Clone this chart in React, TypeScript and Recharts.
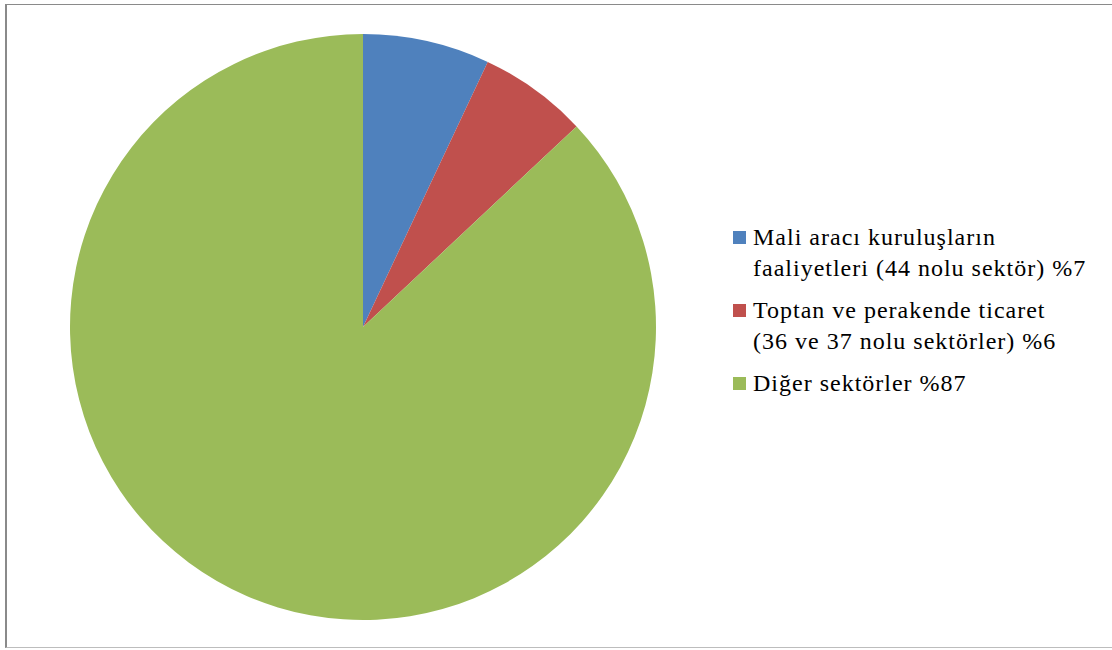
import { PieChart, Pie, Cell } from 'recharts';

const sectors = [
  'Mali aracı kuruluşların\nfaaliyetleri (44 nolu sektör) %7',
  'Toptan ve perakende ticaret\n(36 ve 37 nolu sektörler) %6',
  'Diğer sektörler %87',
];
const shares = [7, 6, 87];
const COLORS = ['#4F81BD', '#C0504D', '#9BBB59'];

const data = sectors.map((name, i) => ({ name, value: shares[i] }));

const serif = "'Liberation Serif', 'Times New Roman', serif";

function LegendBox() {
  return (
    <div
      style={{
        position: 'absolute',
        left: 733,
        top: 222,
        fontFamily: serif,
        fontSize: 24,
        letterSpacing: 1,
        lineHeight: '31px',
        color: '#000',
      }}
    >
      {data.map((d, i) => (
        <div key={d.name} style={{ display: 'flex', alignItems: 'flex-start', marginBottom: 11 }}>
          <span style={{ width: 13, height: 13, background: COLORS[i], marginTop: 9, marginRight: 7, flexShrink: 0 }} />
          <span style={{ whiteSpace: 'pre-line' }}>{d.name}</span>
        </div>
      ))}
    </div>
  );
}

export default function App() {
  return (
    <div style={{ position: 'fixed', left: 0, top: 0, width: 1112, height: 650, background: '#fff' }}>
      <div
        style={{
          position: 'absolute',
          left: 5,
          top: 4,
          width: 1110,
          height: 644,
          borderLeft: '2px solid #8a8a8a',
          borderTop: '1px solid #8a8a8a',
          borderBottom: '1px solid #bdbdbd',
          boxSizing: 'border-box',
        }}
      />
      <PieChart
        width={1112}
        height={650}
        margin={{ top: 0, right: 0, bottom: 0, left: 0 }}
        style={{ position: 'absolute', left: 0, top: 0 }}
      >
        <Pie
          data={data}
          dataKey="value"
          cx={363}
          cy={327}
          outerRadius={293}
          startAngle={90}
          endAngle={-270}
          stroke="none"
          isAnimationActive={false}
        >
          {data.map((entry, index) => (
            <Cell key={`cell-${index}`} fill={COLORS[index]} />
          ))}
        </Pie>
      </PieChart>
      <LegendBox />
    </div>
  );
}
